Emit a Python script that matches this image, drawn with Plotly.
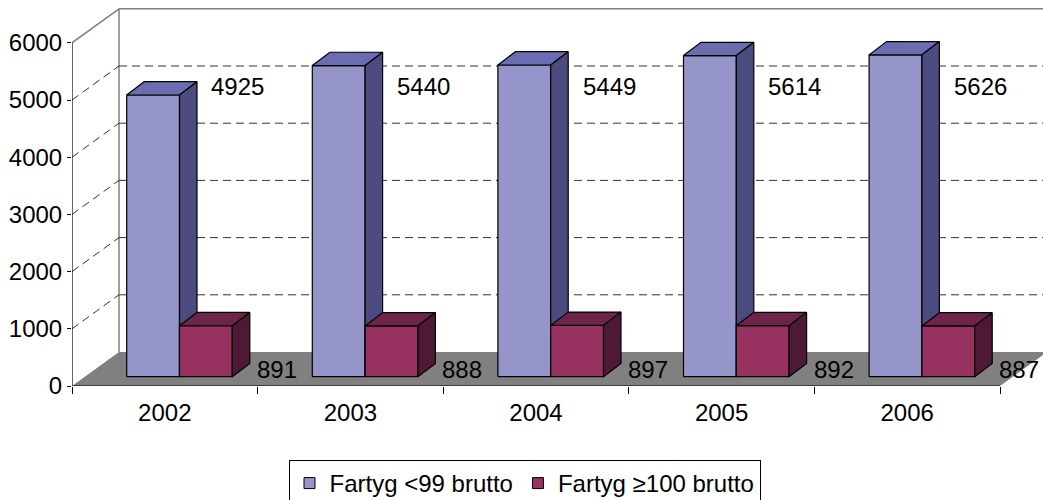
import plotly.graph_objects as go

# ---- data ----
years = ["2002", "2003", "2004", "2005", "2006"]
small_ships = [4925, 5440, 5449, 5614, 5626]     # Fartyg <99 brutto
large_ships = [891, 888, 897, 892, 887]          # Fartyg ≥100 brutto
series_names = ["Fartyg <99 brutto", "Fartyg \u2265100 brutto"]
y_ticks = [0, 1000, 2000, 3000, 4000, 5000, 6000]

# ---- style / geometry (pixels converted to axis units) ----
FONT = "Liberation Sans, Arial, sans-serif"
W, H = 1043, 500
ML, MB = 72, 114
PX_CAT = 185.6          # px per category
PX_VAL = 0.0572         # px per value unit
plot_w = W - ML
plot_h = H - MB
XR = [-0.5, -0.5 + plot_w / PX_CAT]
YR = [0, plot_h / PX_VAL]

def dxu(px):
    return px / PX_CAT

def dyu(px):
    return px / PX_VAL

WALL_DX, WALL_DY = dxu(47), dyu(34)        # depth of floor/walls
BAR_OFF_X, BAR_OFF_Y = dxu(12.5), dyu(9.3)  # bar front plane offset
BAR_DX, BAR_DY = dxu(17.5), dyu(13.3)       # bar depth
BAR_W = dxu(52.8)
BAR_START = dxu(54.7 - 12.5)                # left of first bar from category edge

colors = [
    {"front": "#9595C9", "top": "#6C6CB0", "side": "#4B4B80"},
    {"front": "#963160", "top": "#6E2448", "side": "#4E1935"},
]

fig = go.Figure()

def add_faces(values, k):
    fx, fy, tx, ty, sx, sy = [], [], [], [], [], []
    for i, v in enumerate(values):
        x0 = i - 0.5 + BAR_START + BAR_OFF_X + k * BAR_W
        x1 = x0 + BAR_W
        b = BAR_OFF_Y
        t = b + v
        fx += [x0, x1, x1, x0, x0, None]
        fy += [b, b, t, t, b, None]
        tx += [x0, x1, x1 + BAR_DX, x0 + BAR_DX, x0, None]
        ty += [t, t, t + BAR_DY, t + BAR_DY, t, None]
        sx += [x1, x1 + BAR_DX, x1 + BAR_DX, x1, x1, None]
        sy += [b, b + BAR_DY, t + BAR_DY, t, b, None]
    for xs, ys, face in ((fx, fy, "front"), (tx, ty, "top"), (sx, sy, "side")):
        fig.add_trace(go.Scatter(
            x=xs, y=ys, mode="lines", fill="toself",
            fillcolor=colors[k][face],
            line=dict(color="black", width=1.2),
            showlegend=False, hoverinfo="skip"))

add_faces(small_ships, 0)
add_faces(large_ships, 1)

# invisible trace so the category-label axis is drawn
fig.add_trace(go.Scatter(x=[0], y=[0], xaxis="x2", yaxis="y", mode="markers",
                         marker=dict(opacity=0), showlegend=False, hoverinfo="skip"))

# legend entries
for k, name in enumerate(series_names):
    fig.add_trace(go.Scatter(
        x=[None], y=[None], mode="markers", name=name,
        marker=dict(symbol="square", size=11, color=colors[k]["front"],
                    line=dict(color="black", width=1))))

# ---- walls, floor, gridlines ----
shapes = []
x_left = XR[0]
x_right = len(years) - 0.5
floor_path = (f"M {x_left},0 L {x_left + WALL_DX},{WALL_DY} "
              f"L {x_right + WALL_DX},{WALL_DY} L {x_right},0 Z")
shapes.append(dict(type="path", path=floor_path, xref="x", yref="y",
                   fillcolor="#808080", line=dict(width=0), layer="below"))
top_val = y_ticks[-1]
shapes.append(dict(type="line", xref="x", yref="y",
                   x0=x_left + WALL_DX, y0=WALL_DY, x1=x_left + WALL_DX, y1=WALL_DY + top_val,
                   line=dict(color="#808080", width=1.5), layer="below"))
shapes.append(dict(type="line", xref="x", yref="y",
                   x0=x_left + WALL_DX, y0=WALL_DY + top_val, x1=x_right + WALL_DX, y1=WALL_DY + top_val,
                   line=dict(color="#808080", width=1.5), layer="below"))
shapes.append(dict(type="line", xref="x", yref="y",
                   x0=x_left, y0=top_val, x1=x_left + WALL_DX, y1=WALL_DY + top_val,
                   line=dict(color="#808080", width=1.5), layer="below"))
for v in y_ticks[1:-1]:
    shapes.append(dict(type="line", xref="x", yref="y",
                       x0=x_left + WALL_DX, y0=WALL_DY + v, x1=x_right + WALL_DX, y1=WALL_DY + v,
                       line=dict(color="#333333", width=1, dash="8px,5px"), layer="below"))
    shapes.append(dict(type="line", xref="x", yref="y",
                       x0=x_left, y0=v, x1=x_left + WALL_DX, y1=WALL_DY + v,
                       line=dict(color="#333333", width=1, dash="8px,5px"), layer="below"))
shapes.append(dict(type="line", xref="x", yref="y", x0=x_left, y0=0, x1=x_left, y1=top_val,
                   line=dict(color="black", width=1.2)))
shapes.append(dict(type="line", xref="x", yref="y", x0=x_left, y0=0, x1=x_right, y1=0,
                   line=dict(color="black", width=1.2)))

# ---- data labels ----
annotations = []
for i, v in enumerate(small_ships):
    annotations.append(dict(x=i + dxu(73), y=dyu(386 - 86), xref="x", yref="y",
                            text=str(v), showarrow=False,
                            font=dict(family=FONT, size=24, color="black")))
for i, v in enumerate(large_ships):
    annotations.append(dict(x=i + dxu(112), y=dyu(386 - 369), xref="x", yref="y",
                            text=str(v), showarrow=False,
                            font=dict(family=FONT, size=24, color="black")))

fig.update_layout(
    width=W, height=H,
    margin=dict(l=ML, r=0, t=0, b=MB, autoexpand=False),
    paper_bgcolor="white", plot_bgcolor="white",
    font=dict(family=FONT, size=24, color="black"),
    shapes=shapes, annotations=annotations,
    xaxis=dict(range=XR, tickvals=[i - 0.5 for i in range(len(years) + 1)],
               ticks="outside", ticklen=7, tickcolor="black", tickwidth=1.2,
               showticklabels=False, showgrid=False, zeroline=False, showline=False,
               automargin=False),
    xaxis2=dict(range=XR, overlaying="x", anchor="y", side="bottom",
                tickvals=list(range(len(years))), ticktext=years, ticks="",
                ticklabelstandoff=10, automargin=False,
                showgrid=False, zeroline=False, showline=False,
                tickfont=dict(family=FONT, size=24, color="black")),
    yaxis=dict(range=YR, tickvals=y_ticks, ticks="outside", ticklen=4,
               tickcolor="black", tickwidth=1.2, ticklabelstandoff=0,
               showgrid=False, zeroline=False, showline=False, automargin=False,
               tickfont=dict(family=FONT, size=24, color="black")),
    showlegend=True,
    legend=dict(orientation="h", x=(524.5 - ML) / plot_w, xanchor="center",
                y=(plot_h - 460) / plot_h, yanchor="top",
                bgcolor="white", bordercolor="black", borderwidth=1,
                font=dict(family=FONT, size=24, color="black"),
                itemwidth=30, tracegroupgap=0),
)

fig.write_html("out.html",
               config={"displayModeBar": False},
               post_script="document.body.style.margin='0';document.body.style.padding='0';")
